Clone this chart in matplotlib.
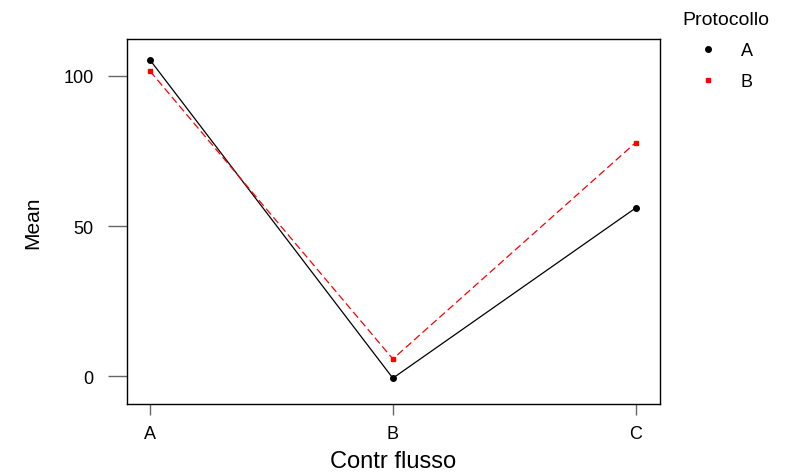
import matplotlib.pyplot as plt
from matplotlib.lines import Line2D

plt.rcParams['font.family'] = ['Liberation Sans', 'DejaVu Sans']

categories = ['A', 'B', 'C']
mean_a = [105.3, -0.7, 56.0]
mean_b = [101.6, 5.7, 77.8]

fig = plt.figure(figsize=(7.86, 4.77), dpi=100)
ax = fig.add_axes([0.1616, 0.151, 0.678, 0.765])

x = range(len(categories))
ax.plot(x, mean_a, color='black', lw=0.9, marker='o', ms=4)
ax.plot(x, mean_b, color='red', lw=0.9, ls=(0, (6, 3)), marker='s', ms=3)

ax.set_xlim(-0.095, 2.1)
ax.set_ylim(-9.3, 112.3)
ax.set_xticks(list(x))
ax.set_xticklabels(categories)
ax.set_yticks([0, 50, 100])
ax.tick_params(axis='x', direction='out', length=8, pad=7, labelsize=13,
               color='#666666', width=1)
ax.tick_params(axis='y', direction='out', length=14, pad=10, labelsize=13,
               color='#666666', width=1)
for s in ax.spines.values():
    s.set_linewidth(1)
ax.set_xlabel('Contr flusso', fontsize=17, labelpad=6)
ax.set_ylabel('Mean', fontsize=15, labelpad=15)

handles = [Line2D([], [], color='black', marker='o', ms=4, ls='none'),
           Line2D([], [], color='red', marker='s', ms=3, ls='none')]
leg = fig.legend(handles, ['A', 'B'], title='Protocollo', loc='upper left',
                 bbox_to_anchor=(0.868, 0.974), frameon=False, fontsize=13,
                 title_fontsize=14, labelspacing=0.76, handlelength=1,
                 handletextpad=1.33, borderpad=0, borderaxespad=0)

fig.savefig('out.png', dpi=100)
